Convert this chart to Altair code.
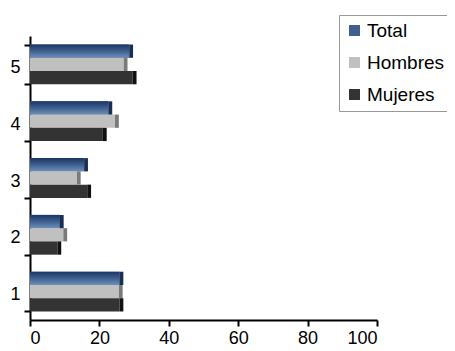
import altair as alt
import pandas as pd

categories = ["1", "2", "3", "4", "5"]
series = ["Total", "Hombres", "Mujeres"]
total = [25.8, 8.6, 15.6, 22.6, 28.6]
hombres = [25.6, 9.6, 13.5, 24.5, 27.0]
mujeres = [25.8, 7.9, 16.5, 21.0, 29.6]
x_ticks = [0, 20, 40, 60, 80, 100]
colors = ["#3F5F8E", "#C0C0C0", "#333333"]
dark_colors = ["#1B2D52", "#7A7A7A", "#111111"]

rows = []
for i, c in enumerate(categories):
    for s, vals, dk in zip(series, [total, hombres, mujeres], dark_colors):
        rows.append({"cat": c, "serie": s, "valor": vals[i], "dark": dk})
df = pd.DataFrame(rows)

font = "Liberation Sans"

y_enc = alt.Y("cat:N", sort=list(reversed(categories)),
              scale=alt.Scale(paddingInner=0.3, paddingOuter=0.15),
              axis=alt.Axis(title=None, tickBand="extent", domainColor="black",
                            domainWidth=2, tickColor="black", tickWidth=2, tickSize=6,
                            labelFontSize=18, labelFont=font, labelColor="black",
                            labelPadding=4, labelOffset=3, grid=False))
x_enc = alt.X("valor:Q", scale=alt.Scale(domain=[0, 100], nice=False),
              axis=alt.Axis(title=None, values=x_ticks, domainColor="black",
                            domainWidth=2, tickColor="black", tickWidth=2, tickSize=6,
                            labelFontSize=18, labelFont=font, labelColor="black",
                            labelPadding=3, grid=False))
yoff = alt.YOffset("serie:N", sort=series, scale=alt.Scale(domain=series, paddingInner=0))

base = alt.Chart(df).mark_bar(stroke=None).encode(
    y=y_enc, x=x_enc, yOffset=yoff,
    color=alt.Color("serie:N", sort=series,
                    scale=alt.Scale(domain=series, range=colors),
                    legend=alt.Legend(title=None, orient="none", legendX=309, legendY=-21,
                                      symbolType="square", symbolSize=120,
                                      symbolStrokeWidth=0, labelFontSize=19,
                                      labelFont=font, labelColor="black",
                                      rowPadding=12, padding=6,
                                      strokeColor="#999999", labelOffset=3)),
)

grad = alt.LinearGradient(gradient="linear", x1=0, x2=0, y1=0, y2=1,
                          stops=[alt.GradientStop(color="#1B3566", offset=0),
                                 alt.GradientStop(color="#3F5F8E", offset=0.5),
                                 alt.GradientStop(color="#6F8FBA", offset=1)])
top = alt.Chart(df).transform_filter(alt.datum.serie == "Total").mark_bar(
    color=grad, stroke=None).encode(y=y_enc, x=x_enc, yOffset=yoff)

caps = alt.Chart(df).transform_calculate(fin="datum.valor + 1.1").mark_bar(
    stroke=None).encode(
    y=y_enc, x=x_enc, x2="fin:Q", yOffset=yoff,
    fill=alt.Fill("dark:N", scale=None))

chart = alt.layer(base, top, caps).properties(
    width=347, height=284,
    autosize=alt.AutoSizeParams(type="none"),
    padding={"left": 22, "top": 28, "right": 70, "bottom": 31},
).configure_view(stroke=None)

chart.save("out.html", embed_options={"renderer": "svg", "actions": False})
